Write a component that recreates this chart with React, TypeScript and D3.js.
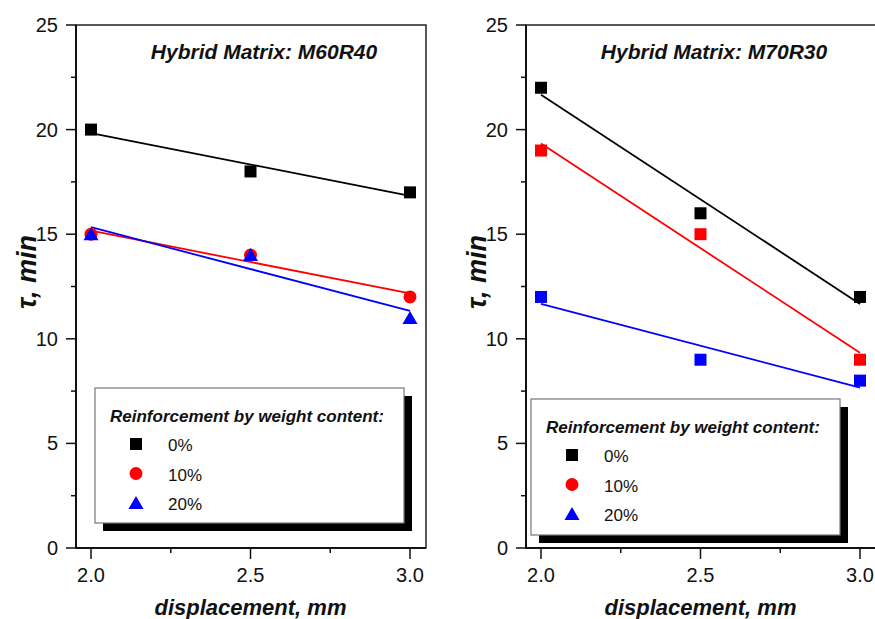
import React from "react";
import * as d3 from "d3";

// data
const displacement = [2.0, 2.5, 3.0];
const seriesLabels = ["0%", "10%", "20%"];
const seriesColors = ["#000000", "#ff0000", "#0000ff"];

const m60r40_0 = [20, 18, 17];
const m60r40_10 = [15, 14, 12];
const m60r40_20 = [15, 14, 11];

const m70r30_0 = [22, 16, 12];
const m70r30_10 = [19, 15, 9];
const m70r30_20 = [12, 9, 8];

const yMajorTicks = [0, 5, 10, 15, 20, 25];
const yMinorTicks = [2.5, 7.5, 12.5, 17.5, 22.5];
const xMajorTicks = [2.0, 2.5, 3.0];
const xMinorTicks = [2.25, 2.75];

const legendShapes = ["square", "circle", "triangle"];

const FONT = "'Liberation Sans', Arial, Helvetica, sans-serif";

// least squares line, like the linear fits in the original plot
function fit(xs: number[], ys: number[]) {
  const mx = d3.mean(xs)!;
  const my = d3.mean(ys)!;
  const num = d3.sum(xs, (x, i) => (x - mx) * (ys[i] - my));
  const den = d3.sum(xs, (x) => (x - mx) * (x - mx));
  const slope = num / den;
  return (x: number) => my + slope * (x - mx);
}

function Marker({ shape, x, y, color }: { shape: string; x: number; y: number; color: string }) {
  if (shape === "circle") return <circle cx={x} cy={y} r={6.5} fill={color} />;
  if (shape === "triangle")
    return <path d={`M${x},${y - 7}L${x + 7.5},${y + 6}L${x - 7.5},${y + 6}Z`} fill={color} />;
  return <rect x={x - 6} y={y - 6} width={12} height={12} fill={color} />;
}

type PanelProps = {
  left: number;
  right: number;
  title: string;
  series: number[][];
  shapes: string[];
  legend: { x: number; y: number; w: number; h: number };
  yLabelX: number;
};

function Panel({ left, right, title, series, shapes, legend, yLabelX }: PanelProps) {
  const top = 25;
  const bottom = 548;
  const pxPerUnit = 319;
  const x = d3
    .scaleLinear()
    .domain([2 - 15 / pxPerUnit, 2 + (right - left - 15) / pxPerUnit])
    .range([left, right]);
  const y = d3.scaleLinear().domain([0, 25]).range([bottom, top]);

  return (
    <g>
      {/* fit lines */}
      {series.map((vals, i) => {
        const f = fit(displacement, vals);
        const pts: [number, number][] = [2.0, 3.0].map((d) => [x(d), y(f(d))]);
        return (
          <path
            key={"l" + i}
            d={d3.line()(pts) || ""}
            fill="none"
            stroke={seriesColors[i]}
            strokeWidth={1.8}
          />
        );
      })}
      {/* points */}
      {series.map((vals, i) =>
        vals.map((v, j) => (
          <Marker key={`p${i}-${j}`} shape={shapes[i]} x={x(displacement[j])} y={y(v)} color={seriesColors[i]} />
        ))
      )}

      {/* frame */}
      <rect x={left} y={top} width={right - left} height={bottom - top} fill="none" stroke="#222" strokeWidth={1.5} />
      <line x1={left} x2={left} y1={top} y2={bottom} stroke="#111" strokeWidth={2} />
      <line x1={left} x2={right} y1={bottom} y2={bottom} stroke="#111" strokeWidth={2} />

      {/* y ticks */}
      {yMajorTicks.map((t) => (
        <g key={"yt" + t}>
          <line x1={left - 10} x2={left} y1={y(t)} y2={y(t)} stroke="#111" strokeWidth={1.5} />
          <text x={left - 18} y={y(t) + 7} textAnchor="end" fontSize={20} fontFamily={FONT} fill="#111">
            {t}
          </text>
        </g>
      ))}
      {yMinorTicks.map((t) => (
        <line key={"ym" + t} x1={left - 5} x2={left} y1={y(t)} y2={y(t)} stroke="#111" strokeWidth={1.5} />
      ))}

      {/* x ticks */}
      {xMajorTicks.map((t) => (
        <g key={"xt" + t}>
          <line x1={x(t)} x2={x(t)} y1={bottom} y2={bottom + 11} stroke="#111" strokeWidth={1.5} />
          <text x={x(t)} y={582} textAnchor="middle" fontSize={20} fontFamily={FONT} fill="#111">
            {d3.format(".1f")(t)}
          </text>
        </g>
      ))}
      {xMinorTicks.map((t) => (
        <line key={"xm" + t} x1={x(t)} x2={x(t)} y1={bottom} y2={bottom + 5} stroke="#111" strokeWidth={1.5} />
      ))}

      {/* axis titles */}
      <text
        x={x(2.5)}
        y={615}
        textAnchor="middle"
        fontSize={22}
        fontWeight="bold"
        fontStyle="italic"
        fontFamily={FONT}
        fill="#111"
      >
        displacement, mm
      </text>
      <text
        transform={`translate(${yLabelX},272) rotate(-90)`}
        textAnchor="middle"
        fontSize={27}
        fontWeight="bold"
        fontStyle="italic"
        fontFamily={FONT}
        fill="#111"
      >
        τ, min
      </text>

      {/* panel title */}
      <text
        x={left + 188}
        y={59}
        textAnchor="middle"
        fontSize={21}
        fontWeight="bold"
        fontStyle="italic"
        fontFamily={FONT}
        fill="#111"
      >
        {title}
      </text>

      {/* legend with drop shadow */}
      <rect x={legend.x + 8} y={legend.y + 8} width={legend.w} height={legend.h} fill="#000" />
      <rect x={legend.x} y={legend.y} width={legend.w} height={legend.h} fill="#fff" stroke="#777" strokeWidth={1.2} />
      <text
        x={legend.x + 15}
        y={legend.y + 34}
        fontSize={17}
        fontWeight="bold"
        fontStyle="italic"
        fontFamily={FONT}
        fill="#111"
      >
        Reinforcement by weight content:
      </text>
      {seriesLabels.map((lab, i) => (
        <g key={"lg" + i}>
          <Marker shape={legendShapes[i]} x={legend.x + 41} y={legend.y + 56 + i * 29.5} color={seriesColors[i]} />
          <text x={legend.x + 73} y={legend.y + 63 + i * 29.5} fontSize={17} fontFamily={FONT} fill="#111">
            {lab}
          </text>
        </g>
      ))}
    </g>
  );
}

export default function App() {
  return (
    <svg
      width={875}
      height={619}
      style={{ position: "absolute", left: 0, top: 0, background: "#fff" }}
    >
      <rect width={875} height={619} fill="#fff" />
      <Panel
        left={76}
        right={426}
        title="Hybrid Matrix: M60R40"
        series={[m60r40_0, m60r40_10, m60r40_20]}
        shapes={["square", "circle", "triangle"]}
        legend={{ x: 95, y: 388, w: 309, h: 135 }}
        yLabelX={36}
      />
      <Panel
        left={526}
        right={876}
        title="Hybrid Matrix: M70R30"
        series={[m70r30_0, m70r30_10, m70r30_20]}
        shapes={["square", "square", "square"]}
        legend={{ x: 531, y: 399, w: 309, h: 136 }}
        yLabelX={486}
      />
    </svg>
  );
}
